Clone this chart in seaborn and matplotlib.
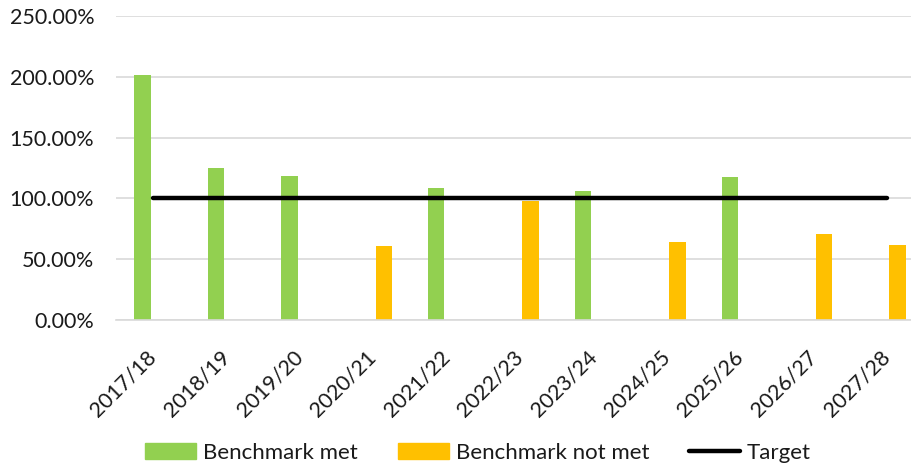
import matplotlib
matplotlib.use("Agg")
import matplotlib.pyplot as plt
import matplotlib.patches as mpatches
import matplotlib.lines as mlines
from matplotlib.ticker import FuncFormatter, MultipleLocator
import seaborn as sns
import pandas as pd

# Financial years and the achieved percentage of benchmark for each
years = ["2017/18", "2018/19", "2019/20", "2020/21", "2021/22", "2022/23",
         "2023/24", "2024/25", "2025/26", "2026/27", "2027/28"]
values = [2.01, 1.253, 1.187, 0.61, 1.084, 0.98, 1.062, 0.64, 1.177, 0.706, 0.616]
target = [1.0] * len(years)

status_met = "Benchmark met"
status_not_met = "Benchmark not met"
status_order = [status_met, status_not_met]
colors = {status_met: "#92D050", status_not_met: "#FFC000"}

status = [status_met if v >= t else status_not_met for v, t in zip(values, target)]
df = pd.DataFrame({"year": years, "value": values, "status": status})

sns.set_theme(style="white")
plt.rcParams["font.family"] = ["Lato", "DejaVu Sans"]

fig = plt.figure(figsize=(9.11, 4.68), dpi=100)
ax = fig.add_axes([116.4 / 911, 0.3156, 807.4 / 911, 0.6509])

sns.barplot(data=df, x="year", y="value", hue="status", hue_order=status_order,
            order=years, palette=colors, width=0.57, dodge=True, ax=ax,
            legend=False, saturation=1, edgecolor="none")

# Narrow the bars while keeping their dodged centres
bar_w = 0.225
for p in ax.patches:
    cx = p.get_x() + p.get_width() / 2
    p.set_width(bar_w)
    p.set_x(cx - bar_w / 2)

# Target line across category centres
ax.plot(range(len(years)), target, color="black", lw=3.2,
        solid_capstyle="round", zorder=4)

ax.set_xlim(-0.5, len(years) - 0.5)
ax.set_ylim(0, 2.5)
ax.yaxis.set_major_locator(MultipleLocator(0.5))
ax.yaxis.set_major_formatter(FuncFormatter(lambda v, _: f"{v * 100:.2f}%"))
ax.grid(axis="y", color="#D9D9D9", lw=1.2)
ax.set_axisbelow(True)
for s in ["top", "right", "left"]:
    ax.spines[s].set_visible(False)
ax.spines["bottom"].set_color("#D9D9D9")
ax.spines["bottom"].set_linewidth(1.2)
ax.set_xlabel("")
ax.set_ylabel("")

ax.tick_params(axis="y", length=0, pad=16, labelsize=15.5, labelcolor="#1a1a1a")
ax.tick_params(axis="x", length=0, pad=24, labelsize=15.5, labelcolor="#1a1a1a")
for lbl in ax.get_xticklabels():
    lbl.set_rotation(45)
    lbl.set_ha("right")
    lbl.set_va("center")
    lbl.set_rotation_mode("anchor")

handles = [
    mpatches.Patch(color=colors[status_met], label=status_met),
    mpatches.Patch(color=colors[status_not_met], label=status_not_met),
    mlines.Line2D([], [], color="black", lw=3.2, solid_capstyle="round", label="Target"),
]
fig.legend(handles=handles, loc="center", bbox_to_anchor=(478 / 911, 1 - 453 / 468),
           ncol=3, frameon=False, fontsize=16, handlelength=2.3, handleheight=0.7,
           handletextpad=0.3, columnspacing=1.8, labelcolor="#1a1a1a")

fig.savefig("out.png", dpi=100)
